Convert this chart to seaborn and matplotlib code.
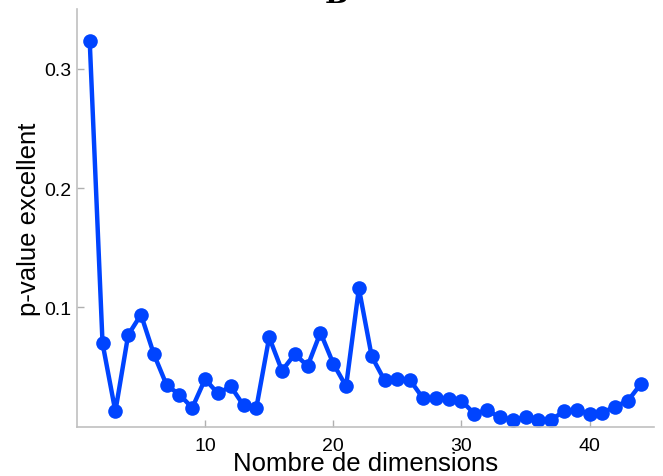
import matplotlib
matplotlib.use('Agg')
import matplotlib.pyplot as plt
import seaborn as sns
import pandas as pd

dimensions = list(range(1, 45))
p_values = [0.323, 0.070, 0.013, 0.077, 0.094, 0.061, 0.035, 0.027, 0.016, 0.040,
            0.028, 0.034, 0.018, 0.016, 0.075, 0.047, 0.061, 0.051, 0.079, 0.053,
            0.034, 0.116, 0.059, 0.039, 0.040, 0.039, 0.024, 0.024, 0.023, 0.022,
            0.011, 0.014, 0.008, 0.006, 0.008, 0.006, 0.006, 0.013, 0.014, 0.011,
            0.012, 0.017, 0.022, 0.036]
x_ticks = [10, 20, 30, 40]
y_ticks = [0.1, 0.2, 0.3]

df = pd.DataFrame({'dim': dimensions, 'pval': p_values})

sns.set_style('ticks')
plt.rcParams['font.family'] = ['Liberation Sans', 'DejaVu Sans']
plt.rcParams['text.color'] = 'black'
plt.rcParams['axes.labelcolor'] = 'black'

fig = plt.figure(figsize=(6.63, 4.77), dpi=100)
ax = fig.add_axes([0.116, 0.103, 0.870, 0.876])
sns.lineplot(x='dim', y='pval', data=df, ax=ax, color='#0044ff',
             linewidth=3.2, marker='o', markersize=10.5, markeredgewidth=0)

ax.set_xlim(0, 45)
ax.set_ylim(0, 0.35)
ax.set_xticks(x_ticks)
ax.set_yticks(y_ticks)
ax.set_xticklabels([str(t) for t in x_ticks])
ax.set_yticklabels([f'{t:.1f}' for t in y_ticks])
ax.set_xlabel('Nombre de dimensions', fontsize=18.5, labelpad=-2)
ax.set_ylabel('p-value excellent', fontsize=18.5, labelpad=2)
ax.tick_params(direction='in', length=5, width=1, color='#b0b0b0',
               labelsize=14, labelcolor='black')
ax.tick_params(axis='x', pad=7)
ax.tick_params(axis='y', pad=4)
sns.despine(ax=ax)
for s in ['left', 'bottom']:
    ax.spines[s].set_color('#c0c0c0')
    ax.spines[s].set_linewidth(1.2)

# panel letter, cut off at the top edge as in the original
fig.text(0.507, 0.993, 'B', ha='center', va='baseline', fontsize=20,
         fontweight='bold', family='DejaVu Serif')

fig.savefig('out.png', dpi=100)
